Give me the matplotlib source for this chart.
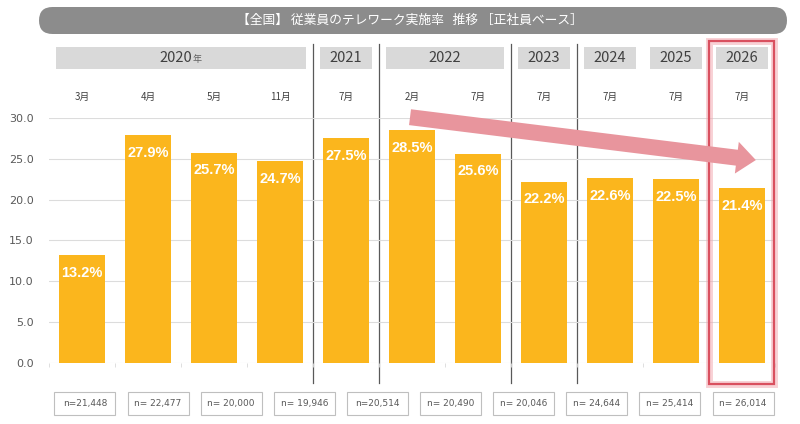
import numpy as np
import matplotlib
matplotlib.use("Agg")
import matplotlib.pyplot as plt
from matplotlib.patches import Rectangle, FancyBboxPatch

plt.rcParams['font.family'] = ['Noto Sans CJK JP', 'DejaVu Sans']

# data
months = ['3月', '4月', '5月', '11月', '7月', '2月', '7月', '7月', '7月', '7月', '7月']
rates = [13.2, 27.9, 25.7, 24.7, 27.5, 28.5, 25.6, 22.2, 22.6, 22.5, 21.4]
years = ['2020', '2021', '2022', '2023', '2024', '2025', '2026']
year_sizes = [4, 1, 2, 1, 1, 1, 1]
sample_sizes = ['n=21,448', 'n= 22,477', 'n= 20,000', 'n= 19,946', 'n=20,514',
                'n= 20,490', 'n= 20,046', 'n= 24,644', 'n= 25,414', 'n= 26,014']
title = '【全国】 従業員のテレワーク実施率   推移 ［正社員ベース］'

bar_color = '#FBB61D'
grey_text = '#595959'

fig = plt.figure(figsize=(8, 4.24), dpi=100)
ax = fig.add_axes([0.06125, 0.1439, 0.9075, 0.5778])

x = np.arange(len(rates))
ax.bar(x, rates, width=0.71, color=bar_color, zorder=2)
ax.set_xlim(-0.5, len(rates) - 0.5)
ax.set_ylim(0, 30)

# value labels inside the bars
for xi, v in zip(x, rates):
    ax.annotate(f'{v:.1f}%', (xi, v), xytext=(0, -12.5), textcoords='offset points',
                ha='center', va='center', color='white', fontsize=10.5,
                fontweight='bold', family='Liberation Sans', zorder=3)

# axis styling
ax.set_yticks(np.arange(0, 31, 5))
ax.set_yticklabels([f'{t:.1f}' for t in np.arange(0, 31, 5)], color=grey_text,
                   fontsize=8, family='DejaVu Sans')
ax.tick_params(axis='y', length=0, pad=11)
ax.set_xticks([])
ax.set_xticks(np.arange(-0.5, len(rates), 1), minor=True)
ax.tick_params(axis='x', which='minor', length=3, color='#d9d9d9', labelbottom=False)
ax.grid(axis='y', color='#dcdcdc', lw=0.8, zorder=0)
for s in ax.spines.values():
    s.set_visible(False)

xt = ax.get_xaxis_transform()

# month labels
for xi, m in zip(x, months):
    ax.text(xi, 1.086, m, transform=xt, ha='center', va='center',
            fontsize=7, color='#404040')

# year header boxes
start = 0
for yr, size in zip(years, year_sizes):
    left = start - 0.5 + 0.1
    right = start + size - 0.5 - 0.1
    ax.add_patch(Rectangle((left, 1.2), right - left, 0.09, transform=xt,
                           facecolor='#d9d9d9', edgecolor='none', clip_on=False))
    cx = (left + right) / 2
    if yr == '2020':
        ax.annotate(yr, (cx, 1.245), xycoords=xt, xytext=(8, 0), textcoords='offset points',
                    ha='right', va='center', fontsize=10.5, color='#404040')
        ax.annotate('年', (cx, 1.245), xycoords=xt, xytext=(8, -1), textcoords='offset points',
                    ha='left', va='center', fontsize=6.5, color='#606060')
    else:
        ax.text(cx, 1.245, yr, transform=xt, ha='center', va='center',
                fontsize=10.5, color='#404040')
    start += size

# separators between years
for b in [3.5, 4.5, 6.5, 7.5]:
    ax.plot([b, b], [-0.082, 1.302], transform=xt, color='#595959', lw=0.9,
            clip_on=False, zorder=1)

# highlight frame around the latest year
for lw, c, a in [(5, '#f2a5ad', 0.5), (1.6, '#d9505f', 1.0)]:
    ax.add_patch(Rectangle((9.5, -0.086), 0.98, 1.4, transform=xt, fill=False,
                           edgecolor=c, lw=lw, alpha=a, clip_on=False, zorder=4))

# trend arrow
ax.annotate('', xy=(10.21, 24.85), xytext=(4.97, 30.1),
            arrowprops=dict(arrowstyle='simple,head_length=1.2,head_width=2.0,tail_width=1.0',
                            mutation_scale=11.5, color='#E8959D', shrinkA=0, shrinkB=0,
                            lw=0),
            annotation_clip=False, zorder=5)

# title bar
fig.add_artist(FancyBboxPatch((0.39, 3.90), 7.48, 0.27,
                              boxstyle='round,pad=0,rounding_size=0.135',
                              transform=fig.dpi_scale_trans, facecolor='#8c8c8c',
                              edgecolor='none'))
fig.text(0.513, (424 - 20.5) / 424, title, ha='center', va='center',
         color='white', fontsize=9.2)

# sample size boxes
centers = np.linspace(85, 743, len(sample_sizes)) / 800
bw, bh = 61 / 800, 23 / 424
by = (424 - 403.5) / 424
for cx, label in zip(centers, sample_sizes):
    fig.add_artist(Rectangle((cx - bw / 2, by - bh / 2), bw, bh, transform=fig.transFigure,
                             facecolor='white', edgecolor='#bfbfbf', lw=0.8))
    fig.text(cx, by, label, ha='center', va='center', fontsize=6.5, color=grey_text,
             family='DejaVu Sans')

fig.savefig('out.png', dpi=100)
